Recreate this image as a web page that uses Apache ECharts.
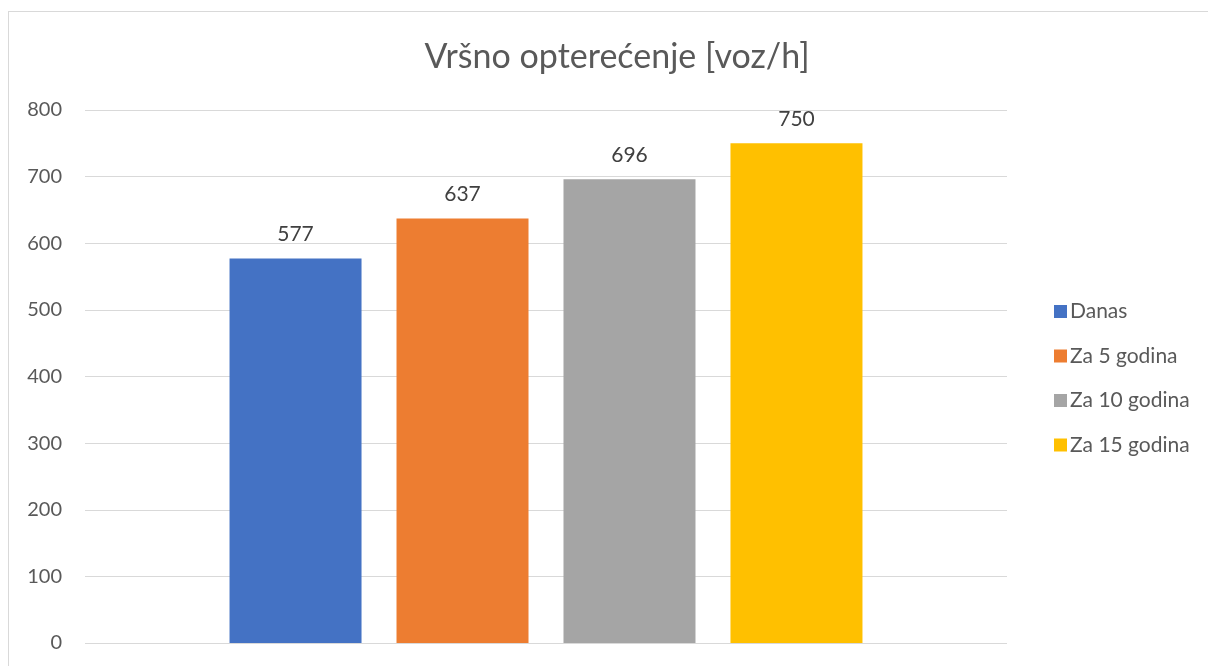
<!DOCTYPE html>
<html>
<head>
<meta charset="utf-8">
<script src="https://cdn.jsdelivr.net/npm/echarts@6/dist/echarts.min.js"></script>
<style>
  html, body { margin: 0; padding: 0; background: #fff; overflow: hidden; }
  .frame {
    position: absolute; left: 8px; top: 11px;
    width: 1400px; height: 900px;
    border: 1px solid #d9d9d9;
  }
  #chart { position: absolute; left: 0; top: 0; width: 1208px; height: 666px; }
</style>
</head>
<body>
<div class="frame"></div>
<div id="chart"></div>
<script>
const categories = ['']
const seriesNames = ['Danas', 'Za 5 godina', 'Za 10 godina', 'Za 15 godina']
const seriesValues = [577, 637, 696, 750]
const seriesColors = ['#4472C4', '#ED7D31', '#A5A5A5', '#FFC000']
const yTicks = [0, 100, 200, 300, 400, 500, 600, 700, 800]

const font = 'Lato, "Open Sans", sans-serif'

const chart = echarts.init(document.getElementById('chart'))

const series = seriesNames.map((name, i) => ({
  name: name,
  type: 'bar',
  data: [seriesValues[i]],
  barWidth: 132,
  barGap: '26.5%',
  itemStyle: { color: seriesColors[i] },
  label: {
    show: true,
    position: 'top',
    distance: 14,
    color: '#404040',
    fontSize: 21,
    fontFamily: font
  }
}))

chart.setOption({
  backgroundColor: 'transparent',
  animation: false,
  title: {
    text: 'Vršno opterećenje [voz/h]',
    left: 612,
    textAlign: 'center',
    top: 35,
    textStyle: {
      color: '#595959',
      fontSize: 34,
      fontWeight: 'normal',
      fontFamily: font
    }
  },
  legend: {
    orient: 'vertical',
    left: 1049,
    top: 296,
    itemWidth: 13,
    itemHeight: 13,
    itemGap: 23.5,
    icon: 'rect',
    data: seriesNames,
    textStyle: {
      color: '#595959',
      fontSize: 21,
      fontFamily: font,
      padding: [0, 0, 0, -2]
    }
  },
  grid: {
    left: 85,
    right: 201,
    top: 110,
    bottom: 23,
    containLabel: false
  },
  xAxis: {
    type: 'category',
    data: categories,
    axisLine: { show: false },
    axisTick: { show: false },
    axisLabel: { show: false }
  },
  yAxis: {
    type: 'value',
    min: yTicks[0],
    max: yTicks[yTicks.length - 1],
    interval: 100,
    axisLine: { show: false },
    axisTick: { show: false },
    axisLabel: {
      color: '#595959',
      fontSize: 20,
      fontFamily: font,
      margin: 23
    },
    splitLine: { lineStyle: { color: '#d9d9d9', width: 1 } }
  },
  series: series
})
</script>
</body>
</html>
